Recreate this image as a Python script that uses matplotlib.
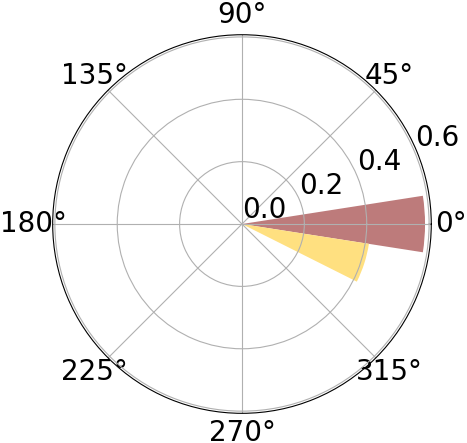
import numpy as np
import matplotlib
matplotlib.use("Agg")
import matplotlib.pyplot as plt

# bar data (angles in radians)
theta = [0.0, -0.31]
radii = [0.587, 0.412]
widths = [0.31, 0.31]
colors = ["#bd7b7b", "#ffe080"]

plt.rcParams["font.size"] = 20

fig = plt.figure(figsize=(4.67, 4.43), dpi=100)
ax = fig.add_axes([0.1128, 0.067, 0.8107, 0.8546], projection="polar")

ax.bar(theta, radii, width=widths, color=colors, bottom=0.0)

ax.set_ylim(0, 0.607)
ax.set_yticks([0.0, 0.2, 0.4, 0.6])
ax.set_thetagrids(np.arange(0, 360, 45))
ax.grid(True)

fig.savefig("out.png", dpi=100)
